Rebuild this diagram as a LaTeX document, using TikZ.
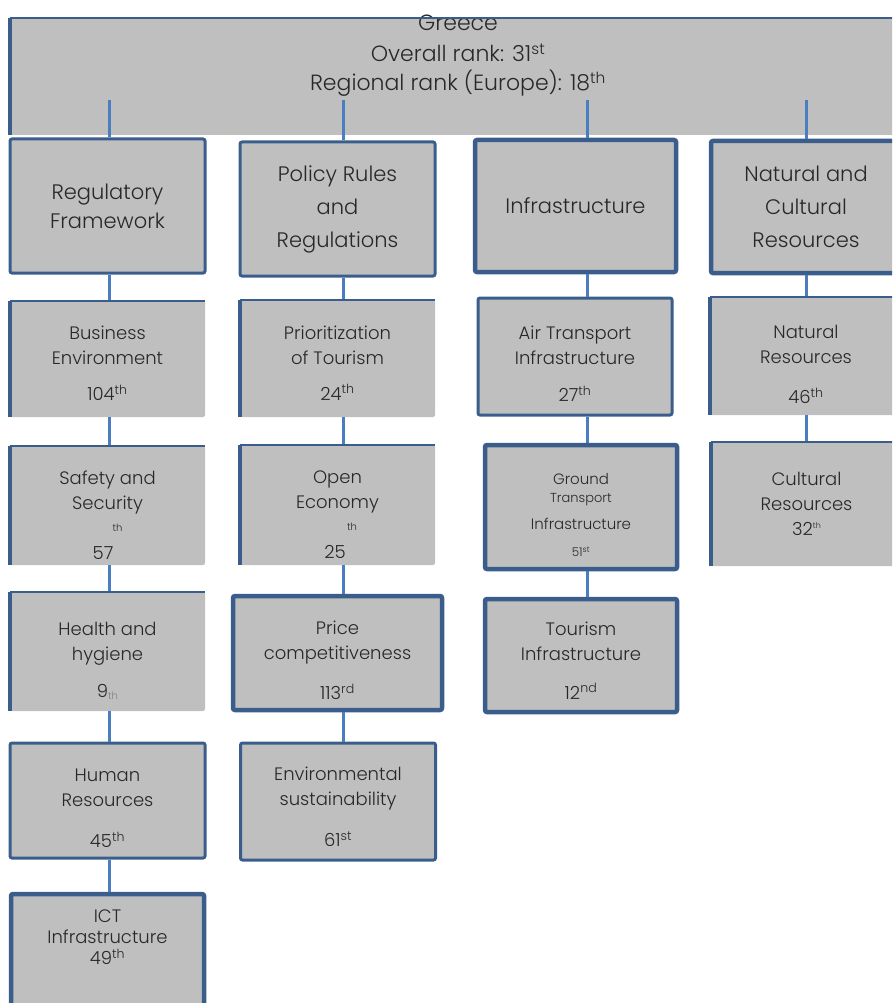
\documentclass[tikz,border=0pt]{standalone}
\usepackage{fontspec}
\setmainfont{Poppins}[UprightFont=* Light]
\usetikzlibrary{positioning}
\definecolor{boxgray}{RGB}{191,191,191}
\definecolor{edgeblue}{RGB}{58,93,140}
\definecolor{linkblue}{RGB}{74,126,193}
\definecolor{inkgray}{RGB}{40,40,40}
\newcommand{\toppad}[1]{\rule{0pt}{#1pt}}
\tikzset{
  box/.style={fill=boxgray, text=inkgray, align=center, inner sep=0pt, minimum width=195pt, rounded corners=2pt},
  fullbox/.style={box, draw=edgeblue, line width=3pt},
  heavybox/.style={fullbox, line width=4.5pt},
  openbox/.style={box},
  catfont/.style={font=\fontsize{21}{33}\selectfont},
  subfont/.style={font=\fontsize{18}{25}\selectfont},
  link/.style={draw=linkblue, line width=3pt},
}

\begin{document}
\begin{tikzpicture}[x=1pt, y=-1pt]
  \clip (0,0) rectangle (892,1003);

  % header box
  \node[openbox, minimum width=896pt, minimum height=117pt] (head) at (458,76.5) {};
  \node[text=inkgray, align=center, font=\fontsize{22}{31}\selectfont] (title) at (458,56)
    {Greece\\Overall rank: 31\textsuperscript{st}\\[-2pt]Regional rank (Europe): 18\textsuperscript{th}};

  % connector roots inside the header
  \coordinate (c1) at (109,100);
  \coordinate (c2) at (343,100);
  \coordinate (c3) at (587,100);
  \coordinate (c4) at (806,100);

  % pillars
  \node[fullbox, catfont, minimum height=134pt] (reg) at (107.5,206) {Regulatory\\[-4pt]Framework};
  \node[fullbox, catfont, minimum height=134pt] (pol) at (337.5,209) {Policy Rules\\and\\Regulations};
  \node[heavybox, catfont, minimum height=132pt, minimum width=201pt] (inf) at (575.5,206) {Infrastructure};
  \node[heavybox, catfont, minimum height=132pt, minimum width=190pt] (nat) at (806,207) {Natural and\\Cultural\\Resources};

  % column 1
  \node[openbox, subfont, minimum height=116pt] (bus) at (107.5,359)
    {\toppad{22}Business\\Environment\\[11pt]104\textsuperscript{th}};
  \node[openbox, subfont, minimum height=119pt] (saf) at (107.5,505.5)
    {\toppad{33}Safety and\\Security\\[-3pt]\hspace*{20pt}{\fontsize{10}{12}\selectfont th}\\[3pt]57\hspace*{9pt}};
  \node[openbox, subfont, minimum height=119pt] (hea) at (107.5,651.5)
    {\toppad{31}Health and\\hygiene\\[12pt]9\raisebox{-2pt}{\fontsize{10}{10}\selectfont\color{gray}th}};
  \node[fullbox, subfont, minimum height=115pt] (hum) at (107.5,800.5)
    {\toppad{29}Human\\Resources\\[16pt]45\textsuperscript{th}};
  \node[heavybox, minimum height=118pt, minimum width=193pt, font=\fontsize{18}{21}\selectfont] (ict) at (107.5,953)
    {ICT\\Infrastructure\\49\textsuperscript{th}\\[10pt]\mbox{}};

  % column 2
  \node[openbox, subfont, minimum height=117pt] (pri) at (337.5,358.5)
    {\toppad{22}Prioritization\\of Tourism\\[11pt]24\textsuperscript{th}};
  \node[openbox, subfont, minimum height=120pt] (ope) at (337.5,505)
    {\toppad{33}Open\\Economy\\[-3pt]\hspace*{29pt}{\fontsize{10}{12}\selectfont th}\\[3pt]25\hspace*{5pt}};
  \node[heavybox, subfont, minimum height=114pt, minimum width=209pt] (pce) at (337.5,653)
    {\toppad{29}Price\\competitiveness\\[15pt]113\textsuperscript{rd}};
  \node[fullbox, subfont, minimum height=117pt] (env) at (338,801.5)
    {\toppad{25}Environmental\\sustainability\\[16pt]61\textsuperscript{st}};

  % column 3
  \node[fullbox, subfont, minimum height=117pt, minimum width=194pt] (air) at (575,356.5)
    {\toppad{28}Air Transport\\Infrastructure\\[12pt]27\textsuperscript{th}};
  \node[heavybox, minimum height=124pt, minimum width=192pt, font=\fontsize{15}{18}\selectfont] (gro) at (581,507)
    {\toppad{28}Ground\\{\fontsize{13}{18}\selectfont Transport}\\[9pt]Infrastructure\\[9pt]{\fontsize{12}{12}\selectfont 51\textsuperscript{st}}};
  \node[heavybox, subfont, minimum height=113pt, minimum width=192pt] (tou) at (581,655.5)
    {\toppad{23}Tourism\\Infrastructure\\[14pt]12\textsuperscript{nd}};

  % column 4
  \node[openbox, subfont, minimum height=118pt, minimum width=192pt] (natr) at (806,356)
    {\toppad{31}Natural\\Resources\\[15pt]46\textsuperscript{th}};
  \node[openbox, minimum height=124pt, minimum width=191pt, font=\fontsize{18}{25}\selectfont] (cul) at (806.5,504)
    {Cultural\\Resources\\32\raisebox{7pt}{\fontsize{8}{8}\selectfont th}};

  % connectors
  \foreach \c/\b in {c1/reg,c2/pol,c3/inf,c4/nat}
    \draw[link] (\c) -- (\c |- \b.north);
  \foreach \c/\a/\b in {c1/reg/bus,c1/bus/saf,c1/saf/hea,c1/hea/hum,c1/hum/ict,
                        c2/pol/pri,c2/pri/ope,c2/ope/pce,c2/pce/env,
                        c3/inf/air,c3/air/gro,c3/gro/tou,
                        c4/nat/natr,c4/natr/cul}
    \draw[link] (\a.south -| \c) -- (\b.north -| \c);

  % left and top edges of the open boxes
  \foreach \b in {head,bus,pri,natr,saf,ope,cul,hea} {
    \draw[edgeblue, line width=4pt] (\b.south west) -- (\b.north west);
    \draw[edgeblue, line width=1.5pt] (\b.north west) -- (\b.north east);
  }
\end{tikzpicture}
\end{document}
